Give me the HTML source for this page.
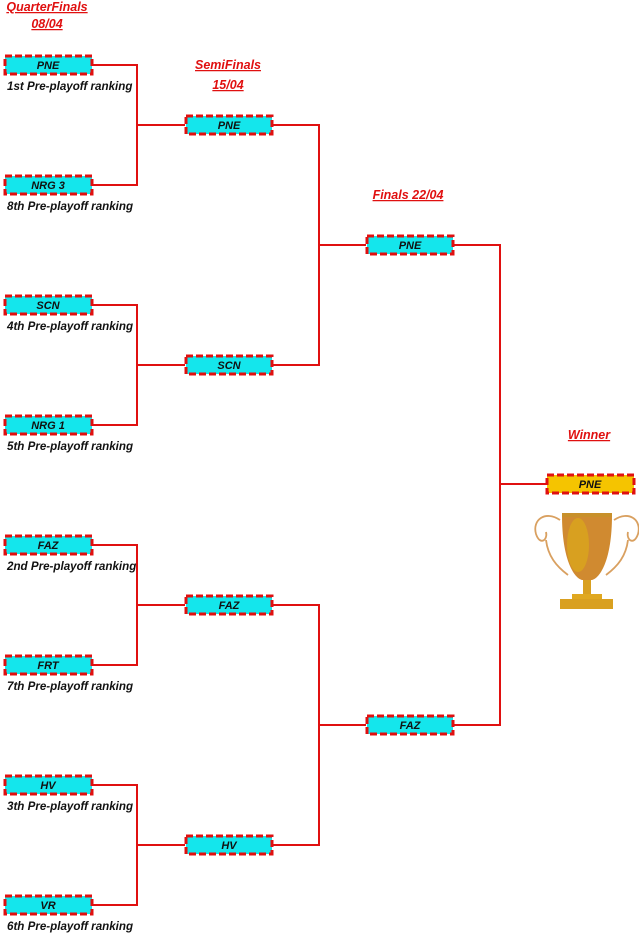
<!DOCTYPE html>
<html><head><meta charset="utf-8"><style>
html,body{margin:0;padding:0;background:#fff;}
svg text{font-family:"Liberation Sans",sans-serif;font-weight:bold;font-style:italic;}
</style></head><body>
<svg width="639" height="935" viewBox="0 0 639 935" xmlns="http://www.w3.org/2000/svg">
<g stroke="#e01010" stroke-width="2" fill="none">
<path d="M93 65H137V185H93 M137 125H185"/>
<path d="M93 305H137V425H93 M137 365H185"/>
<path d="M93 545H137V665H93 M137 605H185"/>
<path d="M93 785H137V905H93 M137 845H185"/>
<path d="M273 125H319V365H273 M319 245H366"/>
<path d="M273 605H319V845H273 M319 725H366"/>
<path d="M454 245H500V725H454 M500 484H546"/>
</g>
<g stroke="#e01010" stroke-width="3" stroke-dasharray="7,3" fill="#14e6ec">
<rect x="5" y="56" width="87" height="18"/>
<rect x="5" y="176" width="87" height="18"/>
<rect x="5" y="296" width="87" height="18"/>
<rect x="5" y="416" width="87" height="18"/>
<rect x="5" y="536" width="87" height="18"/>
<rect x="5" y="656" width="87" height="18"/>
<rect x="5" y="776" width="87" height="18"/>
<rect x="5" y="896" width="87" height="18"/>
<rect x="186" y="116" width="86" height="18"/>
<rect x="186" y="356" width="86" height="18"/>
<rect x="186" y="596" width="86" height="18"/>
<rect x="186" y="836" width="86" height="18"/>
<rect x="367" y="236" width="86" height="18"/>
<rect x="367" y="716" width="86" height="18"/>
<rect x="547" y="475" width="87" height="18" fill="#f5c400"/>
</g>
<g font-size="11" fill="#111" text-anchor="middle">
<text x="48" y="69">PNE</text><text x="48" y="189">NRG 3</text>
<text x="48" y="309">SCN</text><text x="48" y="429">NRG 1</text>
<text x="48" y="549">FAZ</text><text x="48" y="669">FRT</text>
<text x="48" y="789">HV</text><text x="48" y="909">VR</text>
<text x="229" y="129">PNE</text><text x="229" y="369">SCN</text>
<text x="229" y="609">FAZ</text><text x="229" y="849">HV</text>
<text x="410" y="249">PNE</text><text x="410" y="729">FAZ</text>
<text x="590" y="488">PNE</text>
</g>
<g font-size="11.6" fill="#111">
<text x="7" y="90">1st Pre-playoff ranking</text>
<text x="7" y="210">8th Pre-playoff ranking</text>
<text x="7" y="330">4th Pre-playoff ranking</text>
<text x="7" y="450">5th Pre-playoff ranking</text>
<text x="7" y="570">2nd Pre-playoff ranking</text>
<text x="7" y="690">7th Pre-playoff ranking</text>
<text x="7" y="810">3th Pre-playoff ranking</text>
<text x="7" y="930">6th Pre-playoff ranking</text>
</g>
<g font-size="12.5" fill="#e01010" text-anchor="middle" text-decoration="underline">
<text x="47" y="11">QuarterFinals</text>
<text x="47" y="28">08/04</text>
<text x="228" y="69">SemiFinals</text>
<text x="228" y="89">15/04</text>
<text x="408" y="199">Finals 22/04</text>
<text x="589" y="439">Winner</text>
</g>
<g>
<path d="M560 520 C545 510 532 520 536 534 C540 546 548 540 546 532 M546 540 C548 556 556 566 568 575" stroke="#d9a060" stroke-width="1.8" fill="none"/>
<path d="M614 520 C629 510 642 520 638 534 C634 546 626 540 628 532 M628 540 C626 556 618 566 606 575" stroke="#d9a060" stroke-width="1.8" fill="none"/>
<path d="M562 515 H612 C612 560 600 578 592 580 H582 C574 578 562 560 562 515Z" fill="#d08a30"/>
<ellipse cx="578" cy="545" rx="11" ry="27" fill="#d8a020"/>
<rect x="562" y="513" width="50" height="4" fill="#c8902a"/>
<rect x="583" y="580" width="8" height="14" fill="#d9a020"/>
<rect x="572" y="594" width="30" height="5" fill="#e0a820"/>
<rect x="560" y="599" width="53" height="10" fill="#d9a020"/>
</g>
</svg>
</body></html>
